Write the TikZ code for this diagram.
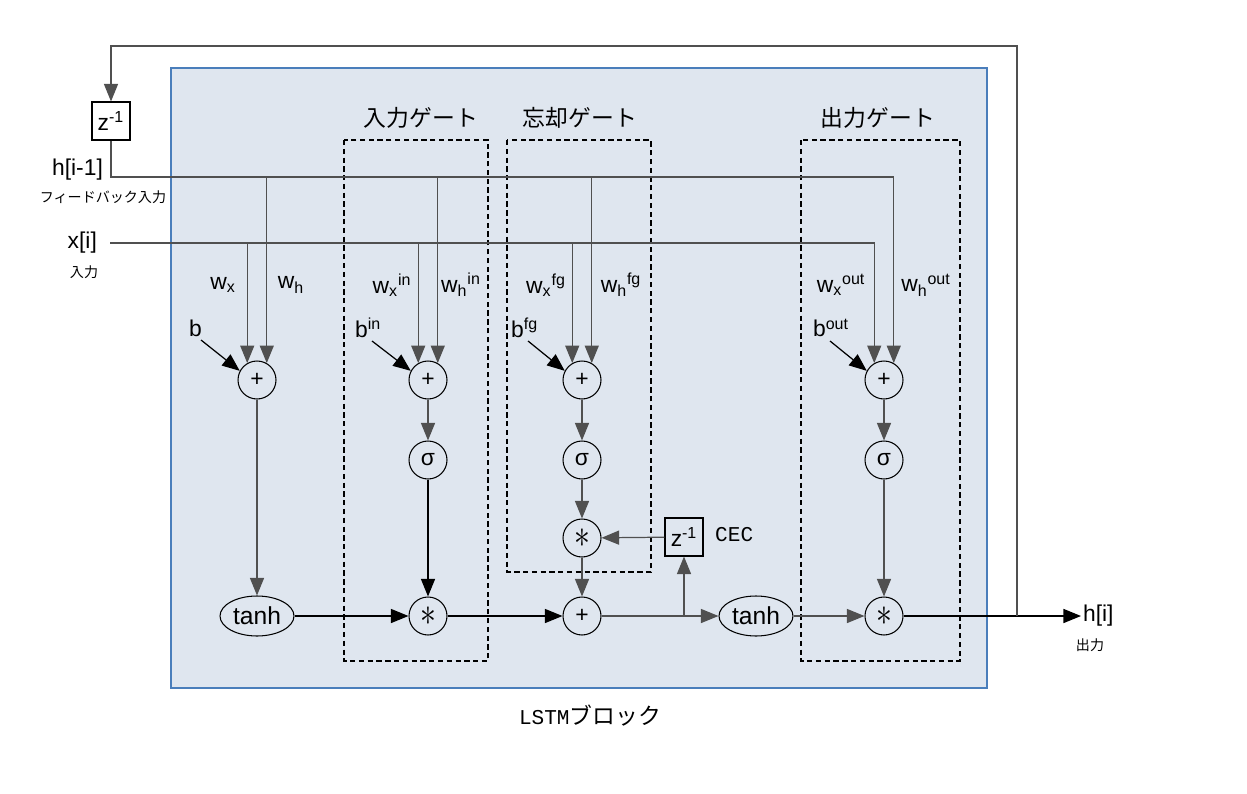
\documentclass[tikz,border=0pt]{standalone}
\usepackage{fontspec}
\setmainfont{Liberation Sans}
\newfontfamily\cjk{Noto Sans CJK JP}
\newfontfamily\cecfont{Liberation Mono}
\usetikzlibrary{arrows.meta,shapes.geometric}
\definecolor{blockfill}{HTML}{DFE6EF}
\definecolor{blockline}{HTML}{4A7EBB}
\definecolor{wire}{HTML}{505050}
\tikzset{
  op/.style={circle,draw,line width=0.6pt,minimum size=0.76cm,inner sep=0pt,font=\fontsize{13}{13}\selectfont},
  act/.style={ellipse,draw,line width=0.6pt,minimum width=1.48cm,minimum height=0.8cm,inner sep=0pt,font=\fontsize{14}{14}\selectfont},
  delay/.style={draw,line width=0.6pt,minimum size=0.76cm,inner sep=0pt,font=\fontsize{13}{13}\selectfont},
  arr/.style={-{Triangle[length=10pt,width=8pt]},draw=wire,line width=0.7pt},
  gatebox/.style={draw,line width=0.6pt,dash pattern=on 3pt off 2pt},
  lbl/.style={font=\fontsize{13}{13}\selectfont,inner sep=1pt},
  title/.style={font=\cjk\fontsize{13}{13}\selectfont},
  small/.style={font=\cjk\fontsize{8}{8}\selectfont}
}
\newcommand{\mul}{\scalebox{1.5}[1.9]{$\ast$}}
\begin{document}
\begin{tikzpicture}[x=0.02cm,y=-0.02cm]
  \useasboundingbox (0,0) rectangle (1247,794);
  \draw[draw=blockline,fill=blockfill,line width=0.6pt] (171,68) rectangle (987,688);
  \draw[gatebox] (344,140) rectangle (488,661);
  \draw[gatebox] (507,140) rectangle (651,572);
  \draw[gatebox] (801,140) rectangle (960,661);
  \node[title] (tin) at (421,118) {入力ゲート};
  \node[title] (tfg) at (580,118) {忘却ゲート};
  \node[title] (tout) at (878,118) {出力ゲート};
  \node[title] (blk) at (590,716) {{\cecfont\fontsize{12}{12}\selectfont LSTM}ブロック};
  % inputs
  \node[delay] (zh) at (111,121) {z\textsuperscript{-1}};
  \node[lbl,anchor=east] (hprev) at (105,170) {h[i-1]};
  \node[small] (fbin) at (103,197) {フィードバック入力};
  \node[lbl,anchor=east] (xi) at (99,243) {x[i]};
  \node[small] (xin) at (84,272) {入力};
  \coordinate (hc) at (111,177);
  \coordinate (xc) at (110,243);
  % adders
  \node[op] (p1) at (257,380) {+};
  \node[op] (pin) at (428,380) {+};
  \node[op] (pfg) at (582,380) {+};
  \node[op] (pout) at (884,380) {+};
  % sigmoids
  \node[op] (sin) at (428,460) {σ};
  \node[op] (sfg) at (582,460) {σ};
  \node[op] (sout) at (884,460) {σ};
  % bottom row
  \node[op] (mfg) at (582,538) {\mul};
  \node[delay] (zc) at (684,537) {z\textsuperscript{-1}};
  \node[anchor=west,font=\cecfont\fontsize{12}{12}\selectfont] (cec) at (709,535) {CEC};
  \node[act] (t1) at (257,616) {tanh};
  \node[op] (min) at (428,616) {\mul};
  \node[op] (pc) at (582,616) {+};
  \node[act] (t2) at (756,616) {tanh};
  \node[op] (mout) at (884,616) {\mul};
  \node[lbl,anchor=west] (hout) at (1081,616) {h[i]};
  \node[small] (outl) at (1090,645) {出力};
  % weight labels
  \node[lbl] (wx1) at (223,285) {w\textsubscript{x}};
  \node[lbl] (wh1) at (291,285) {w\textsubscript{h}};
  \node[lbl] (wxin) at (392,285) {w\textsubscript{x}\textsuperscript{in}};
  \node[lbl] (whin) at (461,285) {w\textsubscript{h}\textsuperscript{in}};
  \node[lbl] (wxfg) at (546,285) {w\textsubscript{x}\textsuperscript{fg}};
  \node[lbl] (whfg) at (621,285) {w\textsubscript{h}\textsuperscript{fg}};
  \node[lbl] (wxout) at (841,285) {w\textsubscript{x}\textsuperscript{out}};
  \node[lbl] (whout) at (926,285) {w\textsubscript{h}\textsuperscript{out}};
  \node[lbl,anchor=west] (b1) at (187,328) {b};
  \node[lbl,anchor=west] (bin) at (353,328) {b\textsuperscript{in}};
  \node[lbl,anchor=west] (bfg) at (509,328) {b\textsuperscript{fg}};
  \node[lbl,anchor=west] (bout) at (811,328) {b\textsuperscript{out}};
  % h and x lines
  \draw[arr] (zh.south) |- (pout.60 |- hc) -- (pout.60);
  \draw[arr] (xc) -- (pout.120 |- xc) -- (pout.120);
  \foreach \p in {p1,pin,pfg} {
    \draw[arr] (\p.120 |- xc) -- (\p.120);
    \draw[arr] (\p.60 |- hc) -- (\p.60);
  }
  \draw[arr,draw=black] ([xshift=0.28cm,yshift=-0.24cm]b1.west) -- (p1.152);
  \draw[arr,draw=black] ([xshift=0.38cm,yshift=-0.26cm]bin.west) -- (pin.152);
  \draw[arr,draw=black] ([xshift=0.38cm,yshift=-0.26cm]bfg.west) -- (pfg.152);
  \draw[arr,draw=black] ([xshift=0.38cm,yshift=-0.26cm]bout.west) -- (pout.152);
  % gate chains
  \draw[arr] (p1) -- (t1);
  \draw[arr] (pin) -- (sin);
  \draw[arr] (pfg) -- (sfg);
  \draw[arr] (pout) -- (sout);
  \draw[arr,draw=black] (sin) -- (min);
  \draw[arr] (sfg) -- (mfg);
  \draw[arr] (sout) -- (mout);
  \draw[arr] (mfg) -- (pc);
  \draw[arr] (zc) -- (mfg);
  % cell line
  \draw[arr,draw=black] (t1) -- (min);
  \draw[arr,draw=black] (min) -- (pc);
  \draw[arr] (pc) -- (t2);
  \draw[arr] (pc.east -| zc) -- (zc);
  \draw[arr] (t2) -- (mout);
  \draw[arr,draw=black] (mout) -- (hout);
  % feedback
  \coordinate (fb) at (1017,616);
  \coordinate (fbtop) at (1017,46);
  \draw[arr] (fb) -- (fbtop) -| (zh.north);
\end{tikzpicture}
\end{document}
